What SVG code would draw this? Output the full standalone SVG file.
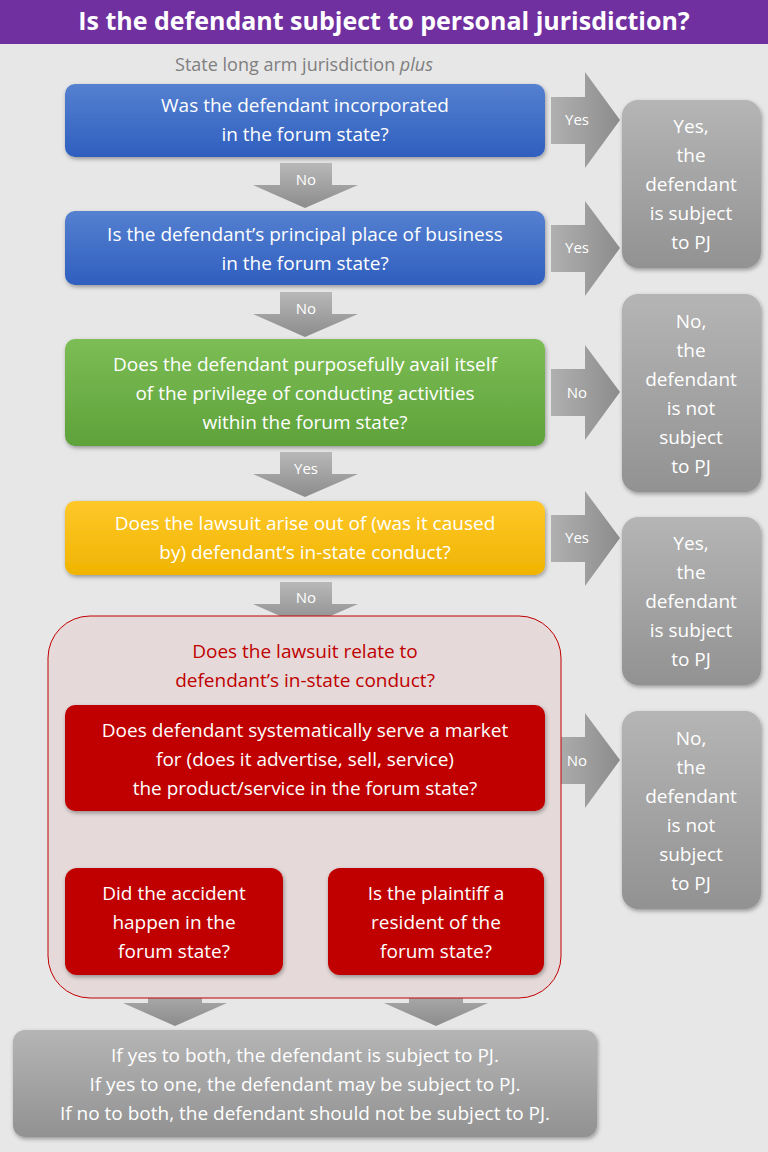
<svg xmlns="http://www.w3.org/2000/svg" width="768" height="1152" viewBox="0 0 768 1152">
<defs>
<linearGradient id="gBlue" x1="0" y1="0" x2="0" y2="1"><stop offset="0" stop-color="#5580d0"/><stop offset="1" stop-color="#2f5fbf"/></linearGradient>
<linearGradient id="gGreen" x1="0" y1="0" x2="0" y2="1"><stop offset="0" stop-color="#7cbd55"/><stop offset="1" stop-color="#5ea23a"/></linearGradient>
<linearGradient id="gYellow" x1="0" y1="0" x2="0" y2="1"><stop offset="0" stop-color="#ffc82a"/><stop offset="1" stop-color="#f0b400"/></linearGradient>
<linearGradient id="gGray" x1="0" y1="0" x2="0" y2="1"><stop offset="0" stop-color="#b5b5b5"/><stop offset="1" stop-color="#929292"/></linearGradient>
<linearGradient id="gArrow" x1="0" y1="0" x2="0" y2="1"><stop offset="0" stop-color="#b8b8b8"/><stop offset="1" stop-color="#8c8c8c"/></linearGradient>
<linearGradient id="gArrowH" x1="0" y1="0" x2="1" y2="0"><stop offset="0" stop-color="#b0b0b0"/><stop offset="1" stop-color="#8c8c8c"/></linearGradient>
<filter id="sh" x="-10%" y="-10%" width="120%" height="130%"><feDropShadow dx="1" dy="2" stdDeviation="2" flood-opacity="0.35"/></filter>
</defs>
<style>
text{font-family:"Open Sans","Liberation Sans",sans-serif;}
.t{fill:#fff;font-size:19px;text-anchor:middle;}
.s{fill:#fff;font-size:15px;text-anchor:middle;}
.r{fill:#c00000;font-size:19px;text-anchor:middle;}
</style>
<rect width="768" height="1152" fill="#e7e7e7"/>
<rect x="0" y="0" width="768" height="44" fill="#7030a0"/>
<text x="384" y="30" fill="#fff" font-size="25" font-weight="bold" text-anchor="middle">Is the defendant subject to personal jurisdiction?</text>
<text x="304" y="71" fill="#7f7f7f" font-size="18" text-anchor="middle">State long arm jurisdiction <tspan font-style="italic">plus</tspan></text>

<g id="connectors">
<g fill="url(#gArrow)">
<path d="M280,163H332V185H358L305,208L253,185H280Z"/>
<path d="M280,292H332V314H358L305,337L253,314H280Z"/>
<path d="M280,452H332V474H358L305,497L253,474H280Z"/>
<path d="M280,582H332V604H358L305,627L253,604H280Z"/>
<path d="M148,820H202V842H227L175,862L123,842H148Z"/>
<path d="M409,820H463V842H488L436,862L384,842H409Z"/>
<path d="M148,980H202V1003H227L175,1026L123,1003H148Z"/>
<path d="M409,980H463V1003H488L436,1026L384,1003H409Z"/>
</g>
<g fill="url(#gArrowH)">
<path d="M551,97H585V72L620,120L585,168V144H551Z"/>
<path d="M551,225H585V201L620,248L585,296V272H551Z"/>
<path d="M551,369H585V345L620,392L585,440V416H551Z"/>
<path d="M551,515H585V491L620,538L585,586V562H551Z"/>
<path d="M551,737H585V713L620,760L585,808V784H551Z"/>
</g>
<text class="s" x="306" y="185">No</text>
<text class="s" x="306" y="314">No</text>
<text class="s" x="306" y="474">Yes</text>
<text class="s" x="306" y="603">No</text>
<text class="s" x="175" y="840">Yes</text>
<text class="s" x="436" y="840">Yes</text>
<text class="s" x="577" y="125">Yes</text>
<text class="s" x="577" y="253">Yes</text>
<text class="s" x="577" y="398">No</text>
<text class="s" x="577" y="543">Yes</text>
<text class="s" x="577" y="766">No</text>
</g>

<g id="q1"><rect x="65" y="84" width="480" height="73" rx="10" fill="url(#gBlue)" filter="url(#sh)"/>
<text class="t" x="305" y="112">Was the defendant incorporated</text><text class="t" x="305" y="141">in the forum state?</text></g>
<g id="q2"><rect x="65" y="211" width="480" height="74" rx="10" fill="url(#gBlue)" filter="url(#sh)"/>
<text class="t" x="305" y="241">Is the defendant’s principal place of business</text><text class="t" x="305" y="270">in the forum state?</text></g>
<g id="q3"><rect x="65" y="339" width="480" height="107" rx="10" fill="url(#gGreen)" filter="url(#sh)"/>
<text class="t" x="305" y="371">Does the defendant purposefully avail itself</text><text class="t" x="305" y="400">of the privilege of conducting activities</text><text class="t" x="305" y="429">within the forum state?</text></g>
<g id="q4"><rect x="65" y="501" width="480" height="74" rx="10" fill="url(#gYellow)" filter="url(#sh)"/>
<text class="t" x="305" y="530">Does the lawsuit arise out of (was it caused</text><text class="t" x="305" y="559">by) defendant’s in-state conduct?</text></g>

<g id="relate"><rect x="48" y="616" width="513" height="382" rx="42" fill="#e5d9d9" stroke="#c00000" stroke-width="1"/>
<text class="r" x="305" y="658">Does the lawsuit relate to</text><text class="r" x="305" y="687">defendant’s in-state conduct?</text></g>
<g id="q5"><rect x="65" y="705" width="480" height="106" rx="10" fill="#c00000" filter="url(#sh)"/>
<text class="t" x="305" y="737">Does defendant systematically serve a market</text><text class="t" x="305" y="766">for (does it advertise, sell, service)</text><text class="t" x="305" y="795">the product/service in the forum state?</text></g>
<g id="q6"><rect x="65" y="868" width="218" height="107" rx="12" fill="#c00000" filter="url(#sh)"/>
<text class="t" x="174" y="900">Did the accident</text><text class="t" x="174" y="929">happen in the</text><text class="t" x="174" y="958">forum state?</text></g>
<g id="q7"><rect x="328" y="868" width="216" height="107" rx="12" fill="#c00000" filter="url(#sh)"/>
<text class="t" x="436" y="900">Is the plaintiff a</text><text class="t" x="436" y="929">resident of the</text><text class="t" x="436" y="958">forum state?</text></g>

<g id="result"><rect x="13" y="1030" width="584" height="107" rx="12" fill="url(#gGray)" filter="url(#sh)"/>
<text class="t" x="305" y="1062">If yes to both, the defendant is subject to PJ.</text><text class="t" x="305" y="1091">If yes to one, the defendant may be subject to PJ.</text><text class="t" x="305" y="1120">If no to both, the defendant should not be subject to PJ.</text></g>

<g id="yes1"><rect x="622" y="100" width="139" height="168" rx="16" fill="url(#gGray)" filter="url(#sh)"/>
<text class="t" x="691" y="133">Yes,</text><text class="t" x="691" y="162">the</text><text class="t" x="691" y="191">defendant</text><text class="t" x="691" y="220">is subject</text><text class="t" x="691" y="249">to PJ</text></g>
<g id="no1"><rect x="622" y="294" width="139" height="198" rx="16" fill="url(#gGray)" filter="url(#sh)"/>
<text class="t" x="691" y="328">No,</text><text class="t" x="691" y="357">the</text><text class="t" x="691" y="386">defendant</text><text class="t" x="691" y="415">is not</text><text class="t" x="691" y="444">subject</text><text class="t" x="691" y="473">to PJ</text></g>
<g id="yes2"><rect x="622" y="517" width="139" height="168" rx="16" fill="url(#gGray)" filter="url(#sh)"/>
<text class="t" x="691" y="550">Yes,</text><text class="t" x="691" y="579">the</text><text class="t" x="691" y="608">defendant</text><text class="t" x="691" y="637">is subject</text><text class="t" x="691" y="666">to PJ</text></g>
<g id="no2"><rect x="622" y="711" width="139" height="198" rx="16" fill="url(#gGray)" filter="url(#sh)"/>
<text class="t" x="691" y="745">No,</text><text class="t" x="691" y="774">the</text><text class="t" x="691" y="803">defendant</text><text class="t" x="691" y="832">is not</text><text class="t" x="691" y="861">subject</text><text class="t" x="691" y="890">to PJ</text></g>
</svg>
